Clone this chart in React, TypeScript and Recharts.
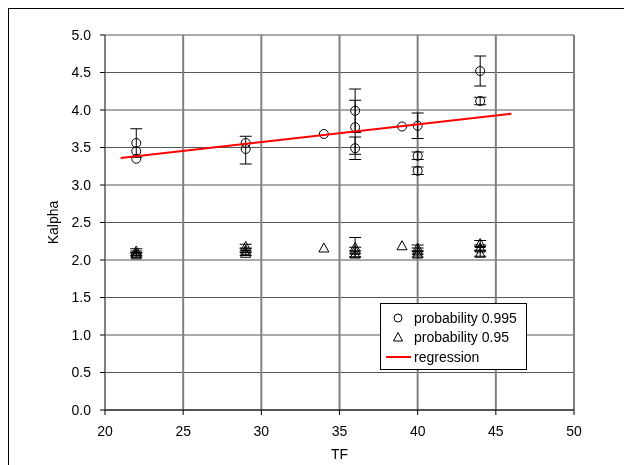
import {
  ComposedChart,
  Scatter,
  XAxis,
  YAxis,
  CartesianGrid,
  ErrorBar,
  Legend,
} from 'recharts';

type Pt = { tf: number; k: number; err?: number | [number, number] };

// probability 0.995, points that carry an error bar
const highWithErr: Pt[] = [
  { tf: 22, k: 3.56, err: 0.19 },
  { tf: 29, k: 3.48, err: [0.2, 0.17] },
  { tf: 36, k: 3.99, err: 0.29 },
  { tf: 36, k: 3.77, err: 0.36 },
  { tf: 36, k: 3.49, err: 0.15 },
  { tf: 40, k: 3.79, err: 0.17 },
  { tf: 40, k: 3.39, err: 0.05 },
  { tf: 40, k: 3.19, err: 0.05 },
  { tf: 44, k: 4.52, err: 0.2 },
  { tf: 44, k: 4.12, err: 0.05 },
];
const highPlain: Pt[] = [
  { tf: 22, k: 3.45 },
  { tf: 22, k: 3.35 },
  { tf: 29, k: 3.56 },
  { tf: 34, k: 3.68 },
  { tf: 39, k: 3.78 },
];

// probability 0.95
const lowWithErr: Pt[] = [
  { tf: 22, k: 2.12, err: 0.03 },
  { tf: 22, k: 2.09, err: 0.03 },
  { tf: 22, k: 2.07, err: 0.03 },
  { tf: 29, k: 2.18, err: 0.03 },
  { tf: 29, k: 2.13, err: 0.03 },
  { tf: 29, k: 2.09, err: 0.03 },
  { tf: 36, k: 2.17, err: 0.13 },
  { tf: 36, k: 2.13, err: 0.04 },
  { tf: 36, k: 2.08, err: 0.04 },
  { tf: 40, k: 2.16, err: 0.04 },
  { tf: 40, k: 2.12, err: 0.04 },
  { tf: 40, k: 2.08, err: 0.04 },
  { tf: 44, k: 2.22, err: 0.04 },
  { tf: 44, k: 2.16, err: 0.04 },
  { tf: 44, k: 2.09, err: 0.04 },
];
const lowPlain: Pt[] = [
  { tf: 34, k: 2.16 },
  { tf: 39, k: 2.19 },
];

const regression: Pt[] = [
  { tf: 21, k: 3.36 },
  { tf: 46, k: 3.95 },
];

const xTicks = [20, 25, 30, 35, 40, 45, 50];
const yTicks = [0, 0.5, 1, 1.5, 2, 2.5, 3, 3.5, 4, 4.5, 5];

const FONT = '"Liberation Sans", Arial, sans-serif';
const FS = 14;

const Circle = (props: any) => (
  <circle cx={props.cx} cy={props.cy} r={4.5} fill="none" stroke="#000" strokeWidth={1} />
);

const Triangle = (props: any) => {
  const { cx, cy } = props;
  return (
    <path
      d={`M${cx},${cy - 5}L${cx + 5},${cy + 4}L${cx - 5},${cy + 4}Z`}
      fill="none"
      stroke="#000"
      strokeWidth={1}
    />
  );
};

const Nothing = () => <g />;

const LegendBox = () => {
  const rows = [
    { name: 'probability 0.995', icon: <circle cx={12} cy={7} r={4} fill="none" stroke="#000" /> },
    { name: 'probability 0.95', icon: <path d="M12,2.5L16.5,11L7.5,11Z" fill="none" stroke="#000" /> },
    { name: 'regression', icon: <line x1={0} x2={25} y1={7} y2={7} stroke="#ff0000" strokeWidth={2} /> },
  ];
  return (
    <div
      style={{
        border: '1px solid #000',
        background: '#fff',
        width: 147,
        height: 67,
        boxSizing: 'border-box',
        fontFamily: FONT,
        fontSize: FS,
        paddingTop: 4,
        whiteSpace: 'nowrap',
      }}
    >
      {rows.map((r) => (
        <div key={r.name} style={{ display: 'flex', alignItems: 'center', height: 19.5 }}>
          <svg width={28} height={14} style={{ marginLeft: 5 }}>
            {r.icon}
          </svg>
          <span>{r.name}</span>
        </div>
      ))}
    </div>
  );
};

export default function App() {
  return (
    <div
      style={{
        position: 'fixed',
        left: 8,
        top: 8,
        width: 640,
        height: 470,
        borderTop: '1px solid #000',
        borderLeft: '1px solid #000',
      }}
    >
      <ComposedChart
        width={615}
        height={456}
        margin={{ top: 26, right: 50, bottom: 0, left: 0 }}
        style={{ fontFamily: FONT }}
      >
        <CartesianGrid horizontal={true} vertical={false} stroke="#555" strokeWidth={1} />
        <CartesianGrid horizontal={false} vertical={true} stroke="#808080" strokeWidth={2} />
        <XAxis
          type="number"
          dataKey="tf"
          domain={[20, 50]}
          ticks={xTicks}
          height={55}
          tickSize={5}
          tickMargin={11}
          stroke="#000"
          tick={{ fill: '#000', fontSize: FS }}
          label={{ value: 'TF', position: 'insideBottom', offset: 6, fill: '#000', fontSize: FS }}
        />
        <YAxis
          type="number"
          dataKey="k"
          domain={[0, 5]}
          ticks={yTicks}
          width={96}
          tickSize={5}
          tickMargin={9}
          stroke="#808080"
          tickLine={{ stroke: '#000' }}
          tick={{ fill: '#000', fontSize: FS }}
          tickFormatter={(v: number) => v.toFixed(1)}
          label={{
            value: 'Kalpha',
            angle: -90,
            position: 'insideLeft',
            offset: 44,
            fill: '#000',
            fontSize: FS,
            style: { textAnchor: 'middle' },
          }}
        />
        <Scatter name="probability 0.995" data={highWithErr} shape={Circle} isAnimationActive={false}>
          <ErrorBar dataKey="err" direction="y" width={6} stroke="#000" strokeWidth={1} />
        </Scatter>
        <Scatter data={highPlain} shape={Circle} isAnimationActive={false} legendType="none" />
        <Scatter name="probability 0.95" data={lowWithErr} shape={Triangle} isAnimationActive={false}>
          <ErrorBar dataKey="err" direction="y" width={6} stroke="#000" strokeWidth={1} />
        </Scatter>
        <Scatter data={lowPlain} shape={Triangle} isAnimationActive={false} legendType="none" />
        <Scatter
          name="regression"
          data={regression}
          shape={Nothing}
          line={{ stroke: '#ff0000', strokeWidth: 2 }}
          isAnimationActive={false}
        />
        <Legend
          layout="vertical"
          align="center"
          verticalAlign="middle"
          content={<LegendBox />}
          wrapperStyle={{ left: 371, top: 294, width: 147, height: 67 }}
        />
      </ComposedChart>
    </div>
  );
}
